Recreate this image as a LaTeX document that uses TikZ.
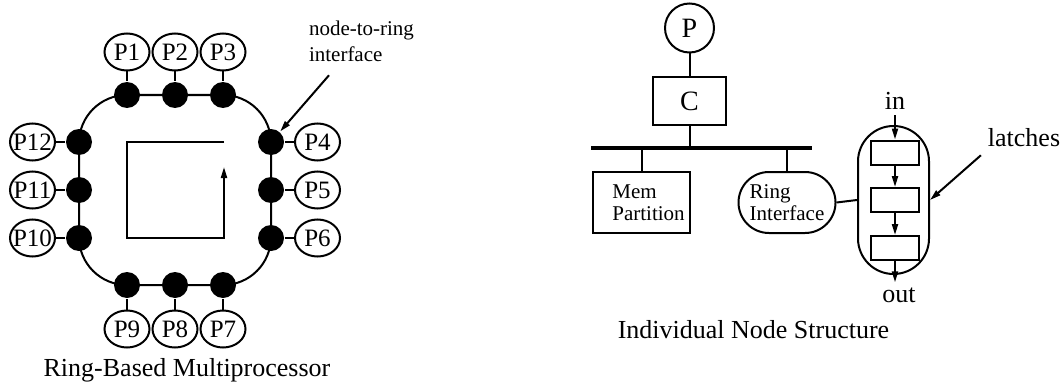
\documentclass[tikz,border=0pt]{standalone}
\usepackage{fontspec}
\setmainfont{Liberation Serif}
\usetikzlibrary{arrows.meta,positioning,shapes.geometric}
\tikzset{
  >={Triangle[length=5.5pt,width=3pt]},
  proc/.style={ellipse,draw,minimum width=22.5pt,minimum height=18.5pt,inner sep=-2pt,
    font=\fontsize{12.5}{14}\selectfont},
  ifdot/.style={circle,fill,minimum size=13pt,inner sep=0pt},
  ringbox/.style={draw,rounded corners=24pt,minimum width=96pt,minimum height=95pt,inner sep=0pt},
  cpu/.style={circle,draw,minimum size=24.5pt,inner sep=0pt,font=\fontsize{14}{16}\selectfont},
  unit/.style={draw,inner sep=1pt,align=left,font=\fontsize{10.5}{11}\selectfont},
  capsule/.style={draw,rounded corners=17.75pt,minimum width=35.5pt,minimum height=74pt,inner sep=0pt},
  latchbox/.style={draw,minimum width=24pt,minimum height=12pt,inner sep=0pt},
  lbl/.style={inner sep=2pt,font=\fontsize{13}{15}\selectfont},
  note/.style={inner sep=0pt,align=left,font=\fontsize{10.5}{13}\selectfont},
  caption/.style={inner sep=0pt,font=\fontsize{13}{15}\selectfont}
}
\begin{document}
\begin{tikzpicture}[x=0.5pt,y=-0.5pt,line width=1pt]
  \useasboundingbox (0,0) rectangle (1063,385);
  % ring-based multiprocessor
  \node[ringbox] (ring) at (175,190) {};
  \foreach \n/\dx/\dy/\ox/\oy in {
    1/127/95/0/-43, 2/175/95/0/-43, 3/223/95/0/-43,
    4/271/142/46.5/0, 5/271/190/46.5/0, 6/271/238/46.5/0,
    7/223/285/0/44, 8/175/285/0/44, 9/127/285/0/44,
    10/79/238/-46.5/0, 11/79/190/-46.5/0, 12/79/142/-46.5/0}
  {
    \node[ifdot] (d\n) at (\dx,\dy) {};
    \node[proc] (p\n) at (\dx+\ox,\dy+\oy) {P\n};
    \draw (d\n) -- (p\n);
  }
  \draw[->] (224,142) -- (127,142) -- (127,238) -- (224,238) -- (224,167);
  \node[note,anchor=north west] (tag) at (308,19.5) {node-to-ring\\interface};
  \draw[->] ([xshift=10.5pt,yshift=-6.5pt]tag.south west) -- (d4);
  \node[caption,anchor=base] (capL) at (187,376) {Ring-Based Multiprocessor};

  % individual node structure
  \node[cpu] (P) at (689.5,28) {P};
  \node[unit,minimum width=36.5pt,minimum height=24pt,font=\fontsize{14}{16}\selectfont] (C) at (689.5,101) {C};
  \coordinate (busL) at (591,148);
  \coordinate (busR) at (812,148);
  \draw[line width=2pt] (busL) -- (busR);
  \node[unit,minimum width=48.5pt,minimum height=30.5pt] (mem) at (641.5,202.5) {Mem\\Partition\hspace*{-7pt}};
  \node[unit,rounded corners=15.25pt,minimum width=48.5pt,minimum height=30.5pt] (ri) at (787,202.5) {Ring\\Interface};
  \draw (P) -- (C);
  \draw (C) -- (C |- busL);
  \draw (mem) -- (mem |- busL);
  \draw (ri) -- (ri |- busL);

  \node[capsule] (latch) at (893.5,200) {};
  \foreach \i/\y in {1/152.5,2/200,3/248}
    \node[latchbox] (l\i) at (895,\y) {};
  \draw (ri.east) -- (latch.west);
  \node[lbl,anchor=base] (in) at (895,110) {in};
  \node[lbl,anchor=base] (out) at (899,302) {out};
  \draw[->] (in) -- (l1);
  \draw[->] (l1) -- (l2);
  \draw[->] (l2) -- (l3);
  \draw[->] (l3) -- (l3 |- out.north);
  \node[lbl,anchor=base] (latchtag) at (1024,146) {latches};
  \draw[->] ([xshift=-1pt,yshift=-2pt]latchtag.south west) -- (latch.east);
  \node[caption,anchor=base] (capR) at (753.5,338) {Individual Node Structure};
\end{tikzpicture}
\end{document}
